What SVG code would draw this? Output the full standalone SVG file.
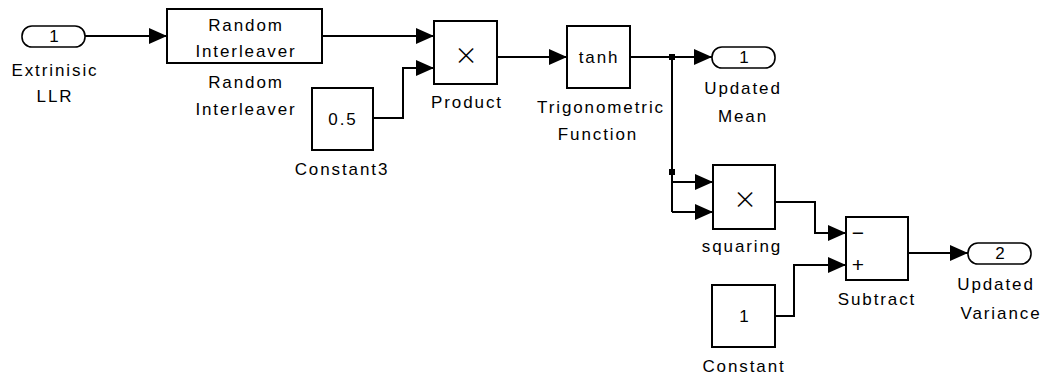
<svg xmlns="http://www.w3.org/2000/svg" width="1048" height="376" viewBox="0 0 1048 376">
<defs>
<marker id="arr" markerUnits="userSpaceOnUse" markerWidth="18" markerHeight="16" refX="18" refY="8" orient="auto">
<path d="M0,0 L18,8 L0,16 z" fill="#000"/>
</marker>
<style>
.blk{fill:#fff;stroke:#000;stroke-width:2}
.port{fill:#fff;stroke:#000;stroke-width:1.6}
.t{font-family:"Liberation Sans",Arial,sans-serif;font-size:17px;letter-spacing:1.9px;text-anchor:middle;fill:#000}
.s{font-family:"Liberation Sans",Arial,sans-serif;font-size:21px;text-anchor:middle;fill:#000}
.x{font-family:Inter,"Liberation Sans",sans-serif;font-weight:200;font-size:35px;text-anchor:middle;fill:#000}
.w{fill:none;stroke:#000;stroke-width:2}
.a{marker-end:url(#arr)}
</style>
</defs>
<rect width="1048" height="376" fill="#fff"/>
<g id="connectors">
<path class="w a" d="M85,36 H167"/>
<path class="w a" d="M322,36 H434"/>
<path class="w a" d="M373,118 H403 V68 H434"/>
<path class="w a" d="M497,57 H567"/>
<path class="w a" d="M630,57 H712"/>
<path class="w" d="M672,57 V212"/>
<path class="w a" d="M672,182 H713"/>
<path class="w a" d="M672,212 H713"/>
<path class="w a" d="M775,202 H815 V233 H846"/>
<path class="w a" d="M775,316 H794 V265 H846"/>
<path class="w a" d="M908,253 H968"/>
<rect x="669" y="54" width="6" height="6" fill="#000"/>
<rect x="669" y="169" width="6" height="6" fill="#000"/>
</g>
<g id="in1">
<rect class="port" x="22" y="26" width="63" height="21" rx="10" ry="10"/>
<text class="t" x="55" y="42">1</text>
<text class="t" x="55" y="76">Extrinisic</text>
<text class="t" x="55" y="102">LLR</text>
</g>
<g id="interleaver">
<rect class="blk" x="167" y="9" width="155" height="54"/>
<text class="t" x="246" y="31">Random</text>
<text class="t" x="246" y="57">Interleaver</text>
<text class="t" x="246" y="88">Random</text>
<text class="t" x="246" y="115">Interleaver</text>
</g>
<g id="constant3">
<rect class="blk" x="312" y="88" width="61" height="62"/>
<text class="t" x="343" y="125">0.5</text>
<text class="t" x="342" y="175">Constant3</text>
</g>
<g id="product">
<rect class="blk" x="434" y="21" width="63" height="63"/>
<text class="x" x="466" y="65">×</text>
<text class="t" x="467" y="108">Product</text>
</g>
<g id="tanh">
<rect class="blk" x="567" y="26" width="63" height="62"/>
<text class="t" x="599" y="63">tanh</text>
<text class="t" x="601" y="113">Trigonometric</text>
<text class="t" x="598" y="140">Function</text>
</g>
<g id="out1">
<rect class="port" x="712" y="47" width="63" height="21" rx="10" ry="10"/>
<text class="t" x="745" y="63">1</text>
<text class="t" x="743" y="94">Updated</text>
<text class="t" x="743" y="122">Mean</text>
</g>
<g id="squaring">
<rect class="blk" x="713" y="165" width="62" height="64"/>
<text class="x" x="745" y="209">×</text>
<text class="t" x="742" y="252">squaring</text>
</g>
<g id="constant">
<rect class="blk" x="712" y="285" width="63" height="62"/>
<text class="t" x="745" y="322">1</text>
<text class="t" x="744" y="372">Constant</text>
</g>
<g id="subtract">
<rect class="blk" x="846" y="217" width="62" height="63"/>
<text class="s" x="858" y="240">−</text>
<text class="s" x="858" y="272">+</text>
<text class="t" x="877" y="305">Subtract</text>
</g>
<g id="out2">
<rect class="port" x="968" y="243" width="63" height="21" rx="10" ry="10"/>
<text class="t" x="1001" y="259">2</text>
<text class="t" x="996" y="290">Updated</text>
<text class="t" x="1001" y="319">Variance</text>
</g>
</svg>
